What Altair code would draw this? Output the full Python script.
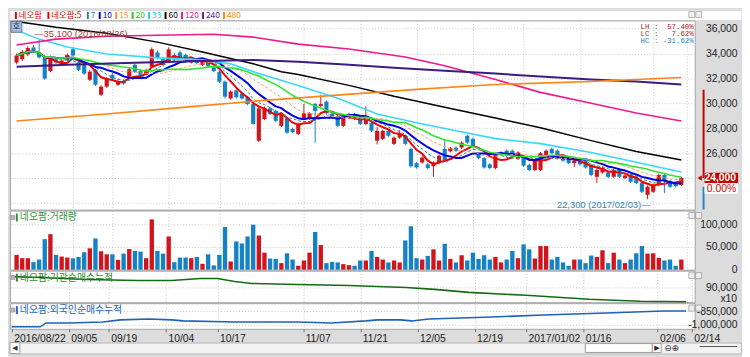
import altair as alt
import pandas as pd

# ---------------- values ----------------
OPEN = [33300, 33550, 33950, 34500, 34100, 33700, 32600, 33550, 33150, 33500,
        34350, 33300, 33100, 31900, 32700, 30700, 31350, 32300, 31500, 31800,
        32150, 33100, 32600, 32400, 32950, 34100, 33550, 33350, 33900, 34100,
        33900, 33300, 33450, 33100, 33350, 32900, 32550, 31750, 30400, 31050,
        30800, 30500, 29950, 27000, 28750, 29600, 29400, 28200, 28800, 27950,
        27550, 28800, 28800, 29950, 29800, 30150, 29150, 29000, 28200, 28850,
        29150, 28950, 28350, 28450, 27000, 27150, 27800, 26750, 27250, 27400,
        26350, 25200, 25250, 25100, 24950, 25200, 26350, 26150, 26450, 26450,
        27400, 27150, 25950, 25600, 25100, 24800, 25900, 26200, 26200, 25550,
        25650, 25050, 24650, 24650, 25800, 26350, 26200, 25800, 25550, 25200,
        25400, 25400, 25050, 24100, 24450, 24450, 24100, 24650, 24000, 24250,
        24050, 23600, 22650, 22900, 23450, 24250, 23750, 23600, 23450]
HIGH = [34000, 34300, 34600, 34700, 35100, 33850, 33850, 33700, 33600, 34000,
        34550, 33400, 33200, 32700, 32800, 31450, 32100, 32450, 31950, 31950,
        32900, 33200, 32750, 32800, 34500, 34250, 33700, 34500, 34050, 34250,
        34000, 33600, 33550, 33450, 33450, 33000, 32650, 31850, 31050, 31150,
        30900, 30600, 30050, 29750, 29750, 29700, 29500, 29250, 28900, 28050,
        28450, 29950, 29300, 30050, 30700, 30250, 29250, 29100, 29100, 29250,
        29250, 29050, 29750, 28550, 28100, 27900, 27900, 27350, 27850, 27500,
        26450, 25300, 25750, 25200, 25350, 25900, 27150, 26500, 26550, 26950,
        27500, 27250, 26050, 25700, 25200, 26050, 26150, 26300, 26300, 26150,
        25750, 25150, 25500, 26100, 26300, 26450, 26300, 25900, 25650, 25600,
        25500, 25500, 25150, 24750, 24900, 24550, 24750, 24750, 24300, 24350,
        24150, 23700, 23400, 23550, 24350, 24400, 23850, 23700, 24100]
LOW = [33150, 33400, 33800, 34100, 33600, 31900, 32500, 33150, 33050, 33400,
       33800, 32600, 32300, 31800, 31400, 30600, 31250, 31900, 31400, 31500,
       32050, 32450, 32200, 32300, 32850, 33550, 33000, 33250, 33450, 33600,
       33400, 33200, 33150, 33000, 32900, 32500, 31650, 30400, 30300, 30400,
       30300, 29850, 28300, 26900, 28650, 29050, 28500, 28100, 27550, 27600,
       27450, 28700, 28700, 26850, 29700, 29100, 28800, 28100, 28100, 28750,
       28650, 28250, 28250, 27700, 26700, 27050, 27300, 26650, 27150, 26650,
       24850, 24750, 25150, 24700, 24100, 25100, 25300, 26050, 26100, 26350,
       26750, 26500, 25500, 24750, 24700, 24700, 25800, 25700, 25850, 25450,
       24900, 24550, 24550, 24550, 25700, 25900, 25500, 25300, 25100, 24900,
       25000, 24750, 24150, 23600, 24350, 24000, 24000, 24000, 23900, 23600,
       23500, 22800, 22300, 22800, 23350, 22800, 23200, 23250, 23350]
CLOSE = [33850, 34150, 34450, 34200, 33700, 32000, 33700, 33300, 33450, 33900,
         33850, 32700, 32400, 32550, 31500, 31350, 32000, 32000, 31800, 31600,
         32750, 32550, 32300, 32700, 34350, 33650, 33100, 34350, 33550, 33700,
         33500, 33500, 33250, 33350, 33000, 32600, 31750, 30550, 30950, 30500,
         30400, 29950, 28350, 29600, 29600, 29150, 28600, 29150, 27650, 27700,
         28350, 29200, 29200, 29400, 29950, 29200, 28900, 28200, 29000, 29150,
         28750, 28350, 28750, 27800, 27800, 27800, 27400, 27250, 27550, 26750,
         24950, 24850, 25650, 24800, 25250, 25800, 25400, 26400, 26200, 26850,
         26850, 26600, 25600, 24850, 24800, 25950, 26050, 25800, 25950, 26050,
         25000, 24650, 25400, 26000, 26200, 26000, 25600, 25400, 25200, 25400,
         25100, 24850, 24250, 24650, 24800, 24100, 24650, 24100, 24200, 23700,
         23600, 22900, 23300, 23450, 24250, 23850, 23300, 23350, 24000]
VOLUME = [32600, 25400, 25400, 16700, 22400, 67400, 78300, 32600, 29000, 26800,
          25000, 28000, 38500, 47100, 68900, 40600, 34000, 34000, 21700, 35500,
          45600, 41300, 39900, 25400, 110900, 41300, 35500, 73300, 16700, 26800,
          26800, 25400, 28000, 13000, 34000, 9400, 32600, 94200, 18100, 62300,
          57900, 73300, 99300, 75400, 37600, 24600, 23900, 14500, 36200, 22400,
          8700, 20300, 37600, 83300, 54300, 14500, 17400, 16000, 12300, 10100,
          8700, 20300, 20300, 41300, 28300, 22400, 16000, 20300, 16000, 64500,
          95700, 25400, 22400, 30400, 44900, 20300, 57200, 23900, 16000, 31900,
          20300, 37600, 23900, 31900, 22400, 28300, 16000, 22400, 41300, 25400,
          55800, 44900, 24600, 52200, 52200, 22400, 28300, 16000, 8700, 22400,
          22400, 14500, 31200, 28300, 42800, 14500, 37600, 22400, 14500, 22400,
          36200, 52200, 35500, 36200, 26100, 20300, 22400, 8700, 22400]

HIGH_DATE = "2016/08/26"
LOW_DATE = "2017/02/03"
DAY_CHANGE = "0.00%"
RANGE_TOP = 31100
BAND_LOW = 23300

TICK_IDX = [0, 10, 17, 27, 36, 51, 61, 71, 81, 90, 100, 113, 119]
TICK_LABELS = ["2016/08/22", "09/05", "09/19", "10/04", "10/17", "11/07", "11/21",
               "12/05", "12/19", "2017/01/02", "01/16", "02/06", "02/14"]

MA33_IDX = [0, 4, 9, 16, 25, 33, 38, 43, 50, 57, 64, 71, 78, 85, 93, 102, 110, 118]
MA33_VAL = [35880, 35170, 34530, 33980, 33660, 33500, 33190, 32400, 31450, 30420,
            29150, 28440, 27800, 27170, 26770, 26060, 25270, 24480]
MA60_IDX = [0, 7, 16, 25, 33, 42, 47, 50, 59, 67, 76, 85, 93, 102, 110, 118]
MA60_VAL = [36590, 36120, 35640, 34930, 34140, 33190, 32550, 32320, 31450, 30570,
            29700, 28830, 28040, 27010, 26140, 25450]
MA120_IDX = [0, 7, 16, 25, 35, 42, 50, 59, 69, 76, 85, 93, 102, 110, 118]
MA120_VAL = [34690, 35170, 35400, 35480, 35560, 35330, 34770, 34370, 33740, 33030,
             31920, 30890, 30020, 29230, 28590]
MA240_IDX = [0, 9, 21, 33, 42, 50, 59, 67, 76, 85, 93, 102, 110, 118]
MA240_VAL = [32950, 33110, 33270, 33420, 33500, 33350, 33110, 32870, 32630, 32400,
             32160, 31920, 31760, 31520]
MA480_IDX = [0, 16, 28, 42, 71, 85, 102, 118]
MA480_VAL = [28590, 29150, 29620, 30180, 31130, 31520, 31760, 32080]

INST_IDX = [0, 5, 13, 22, 28, 33, 36, 39, 42, 50, 59, 69, 74, 80, 90, 101, 110, 118]
INST_VAL = [101000, 100000, 98000, 97000, 97000, 99000, 99000, 96000, 94000, 93000,
            92000, 90000, 88000, 85000, 82000, 78000, 76000, 75500]

FOREIGN_IDX = [0, 5, 6, 10, 16, 19, 24, 28, 30, 39, 50, 56, 62, 64, 68, 70, 73, 84,
               93, 104, 114, 118]
FOREIGN_VAL = [-1021000, -1021000, -979000, -979000, -968000, -946000, -936000,
               -946000, -957000, -968000, -968000, -979000, -957000, -946000,
               -946000, -957000, -936000, -914000, -893000, -871000, -850000, -850000]

LEGEND_TEXT = ["네오팜", "네오팜:5", "7", "10", "15", "20", "33", "60", "120", "240", "480"]

# ---------------- styling ----------------
FONT_KR = "Noto Sans CJK KR"
FONT_NUM = "Liberation Sans, Arial, sans-serif"
FONT_MONO = "Liberation Mono, DejaVu Sans Mono, monospace"
BG = "#dcdcdc"
GRID_C = "#c6c6c6"
BORDER_C = "#a4a4a4"
UP_C = "#d2151d"
DOWN_C = "#1582c5"
MA_STYLE = {
    5: ("#f00000", 2.0, None),
    7: ("#238888", 1.0, [3, 2]),
    10: ("#0000e6", 2.0, None),
    15: ("#ff9a66", 1.0, [3, 2]),
    20: ("#2ee62e", 1.6, None),
    33: ("#38d8ff", 1.6, None),
    60: ("#000000", 1.5, None),
    120: ("#f0198c", 1.6, None),
    240: ("#3c1c82", 2.0, None),
    480: ("#ff8614", 1.6, None),
}
LEGEND_COLOR = ["#e00000", "#e00000", MA_STYLE[7][0], MA_STYLE[10][0], "#ff8c40",
                "#22cc22", "#22c8ee", "#000000", MA_STYLE[120][0], "#5a2a9a", "#ff8800"]

W = 695
FULL_W = 742
H_LEG, H_MAIN, H_VOL, H_INST, H_FOR = 9, 192, 60, 32, 26

XS = alt.Scale(domain=[-0.3, 119.5], nice=False, zero=False)
PS = alt.Scale(domain=[21465, 36673], nice=False, zero=False)
VS = alt.Scale(domain=[0, 130400], nice=False, zero=False)
IS = alt.Scale(domain=[75000, 107000], nice=False, zero=False)
FS = alt.Scale(domain=[-1042900, -764300], nice=False, zero=False)

grid_kw = dict(grid=True, gridDash=[1, 2], gridColor=GRID_C, domain=False, title=None)
AX_X = alt.Axis(values=TICK_IDX[1:], labels=False, ticks=False, **grid_kw)
label_expr = ("[" + ",".join("'%s'" % t for t in TICK_LABELS) + "][indexof(["
              + ",".join(str(v) for v in TICK_IDX) + "], datum.value)]")
AX_X_BOTTOM = alt.Axis(values=TICK_IDX, labelExpr=label_expr, labelAlign="left",
                       labelBaseline="top", labelOffset=2, labelPadding=2,
                       labelFont=FONT_NUM, labelFontSize=10.5, labelColor="#222222",
                       ticks=True, tickSize=3, tickColor="#707070", labelFlush=False,
                       labelOverlap=False, labelBound=False, **grid_kw)

yax_kw = dict(orient="right", ticks=False, labelAlign="right", labelPadding=43,
              labelFont=FONT_NUM, labelFontSize=10.5, labelColor="#222222", **grid_kw)
FMT = "format(datum.value, ',')"
AX_P = alt.Axis(values=list(range(22000, 36001, 2000)),
                labelExpr="datum.value < 25000 ? '' : " + FMT, **yax_kw)
AX_V = alt.Axis(values=[0, 50000, 100000], labelExpr=FMT, **yax_kw)
AX_I = alt.Axis(values=[90000], labelExpr=FMT, **yax_kw)
AX_F = alt.Axis(values=[-1000000, -850000],
                labelExpr="(datum.value < 0 ? '-' : '') + format(abs(datum.value), ',')",
                **yax_kw)


def xenc(bottom=False):
    return alt.X("i:Q", scale=XS, axis=AX_X_BOTTOM if bottom else AX_X)


def yenc(field, scale, axis):
    return alt.Y(field, type="quantitative", scale=scale, axis=axis)


n = len(CLOSE)
df = pd.DataFrame({"i": list(range(n)), "o": OPEN, "h": HIGH, "l": LOW, "c": CLOSE,
                   "v": VOLUME})
df["dir"] = ["up" if c >= o else "down" for o, c in zip(OPEN, CLOSE)]
COLOR = alt.Color("dir:N", scale=alt.Scale(domain=["up", "down"], range=[UP_C, DOWN_C]),
                  legend=None)

base = alt.Chart(df)
YP = lambda f: yenc(f, PS, AX_P)


def panel_icons(y0=1):
    d = alt.Chart(pd.DataFrame({"k": [0]}))
    out = []
    for x0 in (689, 696):
        out.append(d.mark_rect(fill="#eeeeee", stroke="#8a8a8a", strokeWidth=0.6)
                   .encode(x=alt.value(x0), x2=alt.value(x0 + 6),
                           y=alt.value(y0), y2=alt.value(y0 + 6)))
    return out


# ---------------- main price panel ----------------
layers = []
layers.append(base.mark_rule(strokeWidth=1).encode(x=xenc(), y=YP("l"), y2="h", color=COLOR))
layers.append(base.mark_bar(size=4.2).encode(x=xenc(), y=YP("o"), y2="c", color=COLOR))

for span in [5, 7, 10, 15, 20]:
    col, w, dash = MA_STYLE[span]
    kw = dict(color=col, strokeWidth=w)
    if dash:
        kw["strokeDash"] = dash
    layers.append(
        base.transform_window(ma="mean(c)", frame=[-(span - 1), 0],
                              sort=[alt.SortField("i", order="ascending")])
        .mark_line(**kw).encode(x=xenc(), y=YP("ma"))
    )

for span, idx, val in [(33, MA33_IDX, MA33_VAL), (60, MA60_IDX, MA60_VAL),
                       (120, MA120_IDX, MA120_VAL), (240, MA240_IDX, MA240_VAL),
                       (480, MA480_IDX, MA480_VAL)]:
    col, w, dash = MA_STYLE[span]
    layers.append(alt.Chart(pd.DataFrame({"i": idx, "p": val}))
                  .mark_line(color=col, strokeWidth=w).encode(x=xenc(), y=YP("p")))

hi_i = HIGH.index(max(HIGH))
lo_i = LOW.index(min(LOW))
ann = pd.DataFrame({
    "i": [hi_i, lo_i],
    "p": [max(HIGH), min(LOW)],
    "t": ["\u2014%s (%s)" % (format(max(HIGH), ","), HIGH_DATE),
          "%s (%s)\u2014" % (format(min(LOW), ","), LOW_DATE)],
})
layers.append(alt.Chart(ann.iloc[[0]]).mark_text(align="left", dx=-5, dy=-6, font=FONT_NUM,
                                                  fontSize=9.5, color="#a83a3a")
              .encode(x=xenc(), y=YP("p"), text="t:N"))
layers.append(alt.Chart(ann.iloc[[1]]).mark_text(align="right", dx=3, dy=6, font=FONT_NUM,
                                                  fontSize=9.5, color="#2f86bd")
              .encode(x=xenc(), y=YP("p"), text="t:N"))

# LH / LC / HC statistics
hi, lo, last = max(HIGH), min(LOW), CLOSE[-1]
stats = pd.DataFrame({
    "t": ["LH :" + ("%7.2f%%" % ((hi / lo - 1) * 100)).replace(" ", "\u00a0"),
          "LC :" + ("%7.2f%%" % ((last / lo - 1) * 100)).replace(" ", "\u00a0"),
          "HC :" + ("%7.2f%%" % ((last / hi - 1) * 100)).replace(" ", "\u00a0")],
    "col": ["#b22222", "#b22222", "#2a7fc4"],
})
for k in range(3):
    layers.append(alt.Chart(stats.iloc[[k]]).mark_text(align="right", font=FONT_MONO,
                                                        fontSize=7.5)
                  .encode(x=alt.value(694), y=alt.value(7 + 7 * k), text="t:N",
                          color=alt.Color("col:N", scale=None)))

# current price marker on the axis side
TAG_HALF = 420
tag = pd.DataFrame({"p": [last], "top": [last + TAG_HALF], "bot": [last - TAG_HALF],
                    "top2": [last - TAG_HALF], "bot2": [last - 3 * TAG_HALF],
                    "r1": [RANGE_TOP], "b2": [BAND_LOW], "b3": [PS.domain[0]],
                    "lbl": [format(last, ",")], "chg": [DAY_CHANGE]})
tb = alt.Chart(tag)
layers.append(tb.mark_rule(color="#c80000", strokeWidth=2)
              .encode(x=alt.value(704), y=YP("r1"), y2="p"))
layers.append(tb.mark_rule(color="#1f84c6", strokeWidth=2)
              .encode(x=alt.value(704), y=YP("b2"), y2="b3"))
layers.append(tb.mark_rect(color="#c80000").encode(x=alt.value(705), x2=alt.value(739),
                                                    y=YP("top"), y2="bot"))
layers.append(tb.mark_rect(color="white").encode(x=alt.value(705), x2=alt.value(739),
                                                  y=YP("top2"), y2="bot2"))
layers.append(tb.mark_point(shape="triangle-left", filled=True, size=28, color="#c80000",
                            opacity=1).encode(x=alt.value(700), y=YP("p")))
layers.append(tb.mark_text(align="right", color="white", font=FONT_NUM, fontSize=10.5,
                           fontWeight="bold").encode(x=alt.value(737), y=YP("p"), text="lbl:N"))
layers.append(tb.mark_text(align="right", color="#d00000", font=FONT_NUM, fontSize=10.5, dy=11)
              .encode(x=alt.value(737), y=YP("p"), text="chg:N"))

# small "호" button
one = alt.Chart(pd.DataFrame({"t": ["호"]}))
layers.append(one.mark_rect(fill="#a9bcd8", stroke="#5d7496", strokeWidth=1)
              .encode(x=alt.value(1), x2=alt.value(12), y=alt.value(1), y2=alt.value(12)))
layers.append(one.mark_text(font=FONT_KR, fontSize=8, color="#1e2f4f")
              .encode(x=alt.value(6.5), y=alt.value(6.5), text="t:N"))

main = alt.layer(*layers).properties(width=W, height=H_MAIN)


# ---------------- sub-panel titles ----------------
def panel_title(text, color, y):
    d = alt.Chart(pd.DataFrame({"t": [text]}))
    return [
        d.mark_rect(fill="#b4b4b4", stroke="#8c8c8c", strokeWidth=0.5)
         .encode(x=alt.value(0), x2=alt.value(5), y=alt.value(y - 2), y2=alt.value(y + 2)),
        d.mark_rect(fill=color).encode(x=alt.value(6), x2=alt.value(8),
                                       y=alt.value(y - 4), y2=alt.value(y + 4)),
        d.mark_text(align="left", font=FONT_KR, fontSize=10, color=color)
         .encode(x=alt.value(10), y=alt.value(y), text="t:N"),
    ]


# ---------------- volume panel ----------------
vol = alt.layer(
    base.mark_bar(size=4.4).encode(x=xenc(), y=yenc("v", VS, AX_V), color=COLOR),
    *panel_title("네오팜:거래량", "#2f962f", 7),
    *panel_icons(2),
).properties(width=W, height=H_VOL)

# ---------------- institutional cumulative ----------------
inst = alt.layer(
    alt.Chart(pd.DataFrame({"i": INST_IDX, "q": INST_VAL}))
    .mark_line(color="#156b15", strokeWidth=1.6).encode(x=xenc(), y=yenc("q", IS, AX_I)),
    *panel_title("네오팜:기관순매수누적", "#2f8a2f", 7),
    *panel_icons(2),
    alt.Chart(pd.DataFrame({"t": ["x10"]})).mark_text(align="right", font=FONT_NUM,
                                                       fontSize=10.5, color="#222222")
    .encode(x=alt.value(738), y=alt.value(29), text="t:N"),
).properties(width=W, height=H_INST)

# ---------------- foreign cumulative ----------------
forn = alt.layer(
    alt.Chart(pd.DataFrame({"i": FOREIGN_IDX, "q": FOREIGN_VAL}))
    .mark_line(color="#1f63b4", strokeWidth=1.6).encode(x=xenc(True), y=yenc("q", FS, AX_F)),
    *panel_title("네오팜:외국인순매수누적", "#2566b8", 7),
    *panel_icons(2),
).properties(width=W, height=H_FOR)

# ---------------- legend row ----------------
def text_w(s):
    return sum(8.5 if ord(ch) > 0x3000 else (2.4 if ch == ":" else 4.6) for ch in s)


pos, x = [], 5.0
for t in LEGEND_TEXT:
    pos.append(x)
    x += 4 + text_w(t) + 3.5
leg = pd.DataFrame({"t": LEGEND_TEXT, "col": LEGEND_COLOR, "px": pos})
leg["px2"] = leg["px"] + 2
leg["tx"] = leg["px"] + 4
legend_row = alt.layer(
    alt.Chart(leg).mark_rect().encode(x=alt.X("px:Q", scale=None), x2="px2:Q",
                                      y=alt.value(1.5), y2=alt.value(8.5),
                                      color=alt.Color("col:N", scale=None)),
    alt.Chart(leg).mark_text(align="left", font=FONT_KR, fontSize=8.5)
    .encode(x=alt.X("tx:Q", scale=None), y=alt.value(5), text="t:N",
            color=alt.Color("col:N", scale=None)),
    *panel_icons(1),
).properties(width=FULL_W, height=H_LEG,
             view=alt.ViewBackground(fill="white", strokeOpacity=0))

# ---------------- spacer (x labels) and scroll strip ----------------
spacer = alt.Chart(pd.DataFrame({"a": [0]})).mark_point(opacity=0).encode(
    x=alt.X("a:Q", axis=None), y=alt.Y("a:Q", axis=None)
).properties(width=W, height=12,
             view=alt.ViewBackground(fillOpacity=0, strokeOpacity=0))

sd = alt.Chart(pd.DataFrame({"t": ["◀"], "u": ["▶"], "z": ["⊖⊕"]}))
strip = alt.layer(
    sd.mark_rect(fill="white", stroke="#9a9a9a").encode(x=alt.value(0), x2=alt.value(10),
                                                       y=alt.value(0), y2=alt.value(11)),
    sd.mark_text(font="DejaVu Sans", fontSize=7, color="#333333")
    .encode(x=alt.value(5), y=alt.value(5.5), text="t:N"),
    sd.mark_rect(fill="white", stroke="#9a9a9a").encode(x=alt.value(584), x2=alt.value(652),
                                                       y=alt.value(1), y2=alt.value(10)),
    sd.mark_rect(fill="white", stroke="#9a9a9a").encode(x=alt.value(652), x2=alt.value(661),
                                                       y=alt.value(1), y2=alt.value(10)),
    sd.mark_text(font="DejaVu Sans", fontSize=7, color="#222222")
    .encode(x=alt.value(656.5), y=alt.value(5.5), text="u:N"),
    sd.mark_text(font="DejaVu Sans", fontSize=9, color="#333333", align="left")
    .encode(x=alt.value(664), y=alt.value(6), text="z:N"),
    sd.mark_rule(color="#555555").encode(x=alt.value(700), x2=alt.value(738),
                                          y=alt.value(4)),
).properties(width=FULL_W, height=11,
             view=alt.ViewBackground(fill="#f3f3f3", stroke="#b8b8b8"))

chart = alt.vconcat(legend_row, main, vol, inst, forn, spacer, strip,
                    spacing=1, bounds="flush").properties(
    background=BG, padding=0
).configure_view(stroke=BORDER_C, strokeWidth=1, fill="white")

chart.save("out.html", embed_options={"renderer": "svg", "actions": False})
